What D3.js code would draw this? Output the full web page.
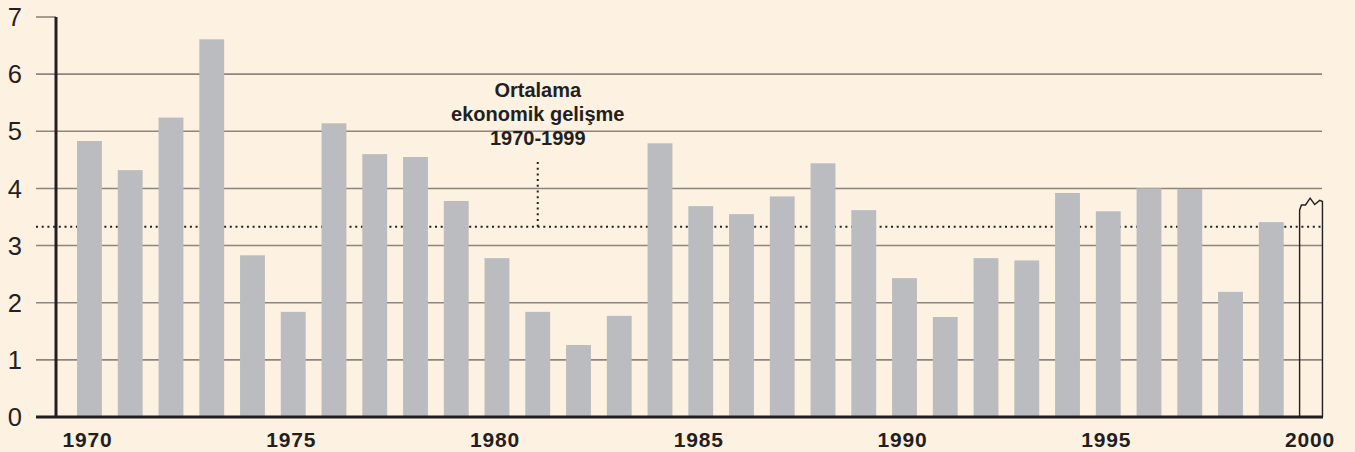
<!DOCTYPE html>
<html>
<head>
<meta charset="utf-8">
<script src="https://cdn.jsdelivr.net/npm/d3@7"></script>
<style>
  html, body { margin: 0; padding: 0; background: #fdf1e1; }
  svg { display: block; }
</style>
</head>
<body>
<div id="chart"></div>
<script>
// yearly growth
const years = d3.range(1970, 2001);
const growth = [
  4.83, 4.32, 5.24, 6.61, 2.83, 1.84, 5.14, 4.60, 4.55, 3.78,
  2.78, 1.84, 1.26, 1.77, 4.79, 3.69, 3.55, 3.86, 4.44, 3.62,
  2.43, 1.75, 2.78, 2.74, 3.92, 3.60, 4.00, 3.99, 2.19, 3.41
];
// 2000 is only an estimate, drawn as an open box with a torn top
const estimateYear = 2000;
const estimateTop = [
  [0.00, 3.62], [0.08, 3.71], [0.26, 3.71], [0.46, 3.83],
  [0.66, 3.72], [0.88, 3.79], [1.00, 3.77]
];
const average = 3.33;
const averageLabel = ['Ortalama', 'ekonomik gelişme', '1970-1999'];
const averageLabelYear = 1981;
const yTicks = [0, 1, 2, 3, 4, 5, 6, 7];
const xLabels = [1970, 1975, 1980, 1985, 1990, 1995, 2000];

const width = 1355;
const height = 452;

const dark = '#231f20';
const gridColor = '#8d867f';
const barColor = '#bbbcbf';
const font = 'Liberation Sans, Arial, Helvetica, sans-serif';

const svg = d3.select('#chart')
  .append('svg')
  .attr('width', width)
  .attr('height', height);

const x = d3.scaleBand()
  .domain(years)
  .range([69.1, 1332.4])
  .paddingInner(0.39)
  .paddingOuter(0.195);

const y = d3.scaleLinear()
  .domain([0, 7])
  .range([417, 17]);

const axisLeft = 56;
const tickStart = 36;
const gridRight = 1322;

// gridlines (1..6) and the short tick at 7
svg.append('g')
  .selectAll('line')
  .data(yTicks.filter((d) => d > 0))
  .join('line')
  .attr('x1', tickStart)
  .attr('x2', (d) => (d === 7 ? axisLeft : gridRight))
  .attr('y1', (d) => y(d))
  .attr('y2', (d) => y(d))
  .attr('stroke', gridColor)
  .attr('stroke-width', 1.6);

// average line
const dotStyle = (sel) => sel
  .attr('stroke', dark)
  .attr('stroke-width', 2)
  .attr('stroke-dasharray', '2,3.7');

svg.append('line')
  .attr('x1', tickStart)
  .attr('x2', gridRight)
  .attr('y1', y(average))
  .attr('y2', y(average))
  .call(dotStyle);

const labelX = x(averageLabelYear) + x.bandwidth() / 2;
svg.append('line')
  .attr('x1', labelX)
  .attr('x2', labelX)
  .attr('y1', 162)
  .attr('y2', y(average))
  .call(dotStyle);

svg.append('text')
  .attr('x', labelX)
  .attr('y', 97)
  .attr('text-anchor', 'middle')
  .attr('font-family', font)
  .attr('font-weight', 'bold')
  .attr('font-size', 20)
  .attr('fill', dark)
  .selectAll('tspan')
  .data(averageLabel)
  .join('tspan')
  .attr('x', labelX)
  .attr('dy', (d, i) => (i === 0 ? 0 : 24))
  .text((d) => d);

// bars
svg.append('g')
  .selectAll('rect')
  .data(growth)
  .join('rect')
  .attr('x', (d, i) => x(years[i]))
  .attr('y', (d) => y(d))
  .attr('width', x.bandwidth())
  .attr('height', (d) => y(0) - y(d))
  .attr('fill', barColor);

// estimate box for 2000
const ex = x(estimateYear);
const ew = x.bandwidth() - 2;
const estPoints = [[ex, y(0)]]
  .concat(estimateTop.map(([fx, v]) => [ex + fx * ew, y(v)]))
  .concat([[ex + ew, y(0)]]);
svg.append('path')
  .attr('d', d3.line()(estPoints))
  .attr('fill', 'none')
  .attr('stroke', dark)
  .attr('stroke-width', 1.4)
  .attr('stroke-linejoin', 'miter');

// axes
svg.append('line')
  .attr('x1', axisLeft)
  .attr('x2', axisLeft)
  .attr('y1', y(7))
  .attr('y2', y(0))
  .attr('stroke', dark)
  .attr('stroke-width', 3);

svg.append('line')
  .attr('x1', tickStart)
  .attr('x2', 1323)
  .attr('y1', y(0))
  .attr('y2', y(0))
  .attr('stroke', dark)
  .attr('stroke-width', 3);

svg.append('g')
  .selectAll('text')
  .data(yTicks)
  .join('text')
  .attr('x', 22)
  .attr('y', (d) => y(d))
  .attr('dy', '0.36em')
  .attr('text-anchor', 'end')
  .attr('font-family', font)
  .attr('font-size', 25.5)
  .attr('fill', dark)
  .text((d) => d);

svg.append('g')
  .selectAll('text')
  .data(xLabels)
  .join('text')
  .attr('x', (d) => x(d) + x.bandwidth() / 2 - 2)
  .attr('y', 447)
  .attr('text-anchor', 'middle')
  .attr('font-family', font)
  .attr('font-weight', 'bold')
  .attr('font-size', 21)
  .attr('letter-spacing', 0.8)
  .attr('fill', dark)
  .text((d) => d);
</script>
</body>
</html>
